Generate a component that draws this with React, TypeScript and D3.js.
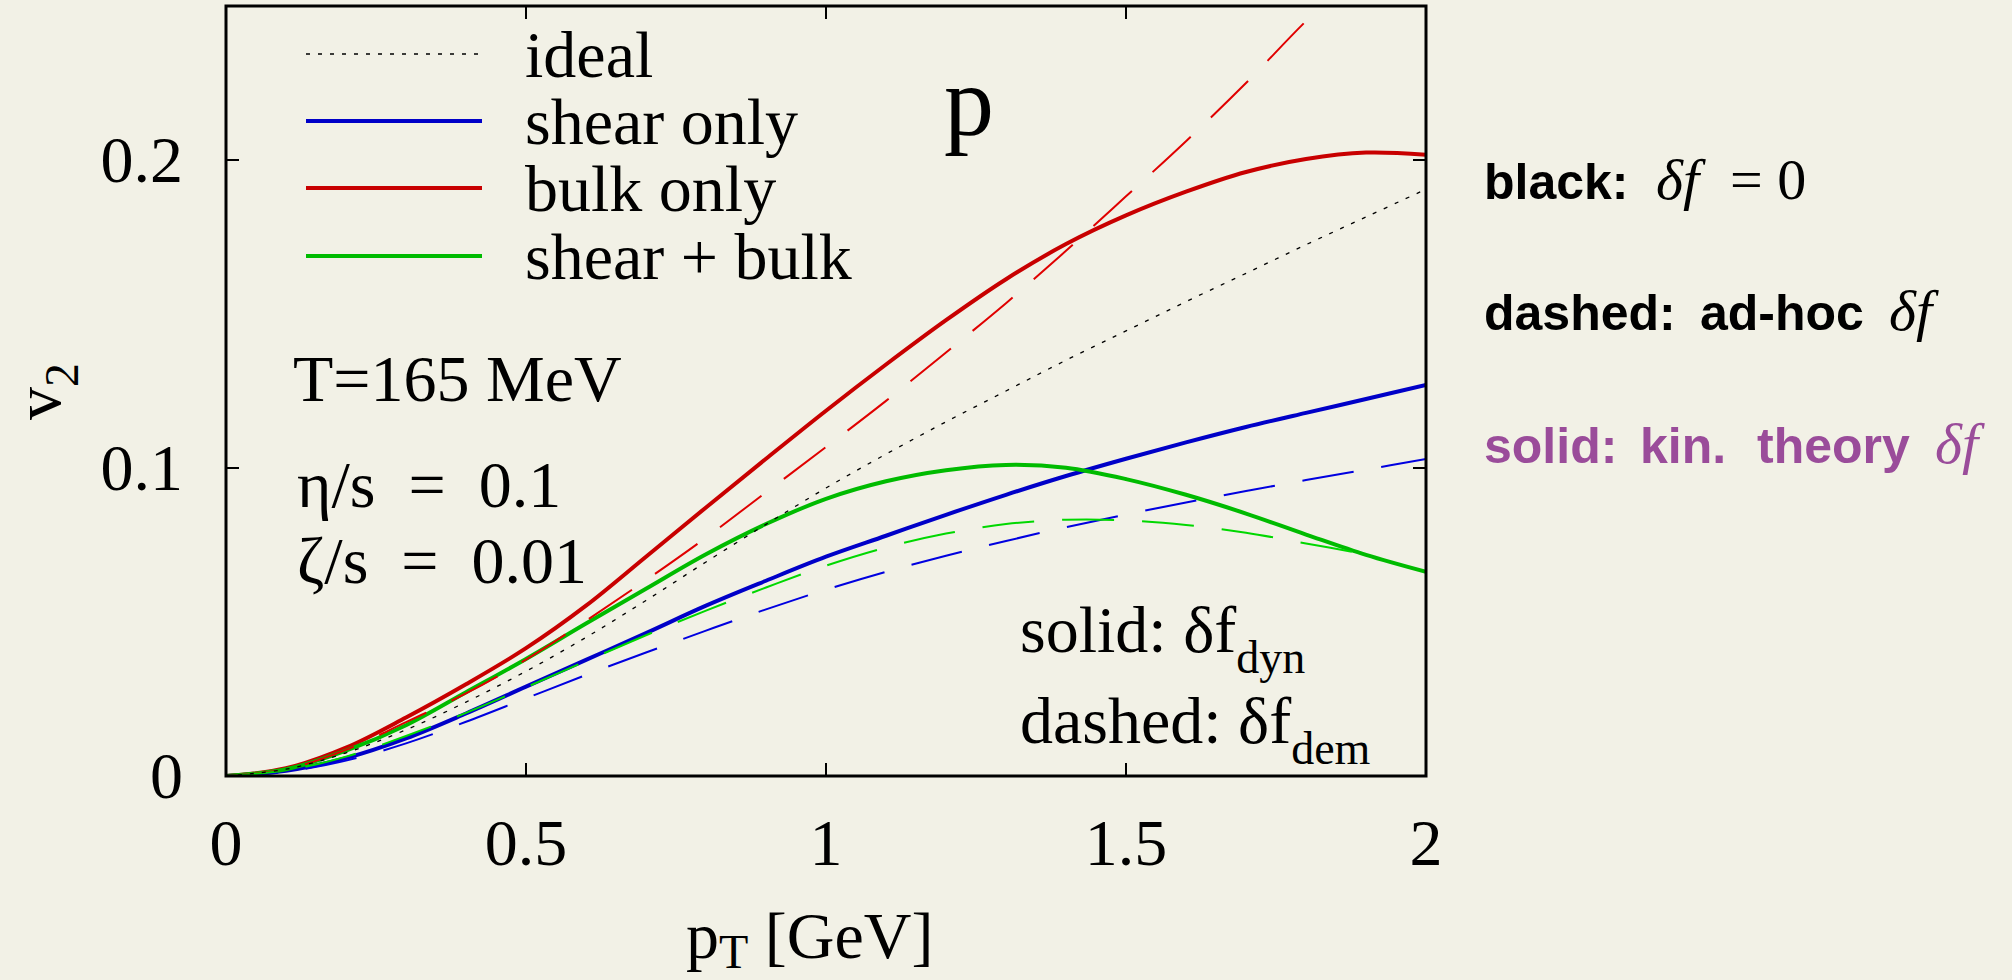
import React from "react";
import * as d3 from "d3";

// pT grid [GeV]
const pT = [0, 0.1, 0.2, 0.3, 0.4, 0.5, 0.6, 0.7, 0.8, 0.9, 1.0, 1.1, 1.2, 1.3, 1.4, 1.5, 1.6, 1.7, 1.8, 1.9, 2.0];

// v2 values (null = no data)
const ideal = [0, 0.0022, 0.0075, 0.015, 0.024, 0.034, 0.045, 0.057, 0.0695, 0.0817, 0.0935, 0.1045, 0.115, 0.125, 0.135, 0.1445, 0.154, 0.1632, 0.1725, 0.1815, 0.1905];
const shearSolid = [0, 0.0017, 0.0058, 0.0122, 0.0203, 0.029, 0.0377, 0.0464, 0.0553, 0.0634, 0.0712, 0.078, 0.0848, 0.0913, 0.0974, 0.103, 0.1083, 0.1133, 0.1179, 0.1224, 0.127];
const shearDashed = [0, 0.0014, 0.005, 0.0106, 0.0176, 0.0252, 0.0328, 0.0401, 0.0472, 0.0541, 0.0605, 0.0663, 0.0715, 0.0763, 0.0808, 0.0849, 0.0888, 0.0925, 0.0961, 0.0995, 0.1029];
const bulkSolid = [0, 0.0025, 0.0092, 0.019, 0.0298, 0.0415, 0.0553, 0.0712, 0.0872, 0.103, 0.1186, 0.1336, 0.148, 0.1613, 0.1727, 0.182, 0.1897, 0.1961, 0.2003, 0.2024, 0.2017];
const bulkDashed = [0, 0.0022, 0.0085, 0.0175, 0.0268, 0.0378, 0.0504, 0.0636, 0.0774, 0.0921, 0.1068, 0.1218, 0.1375, 0.1535, 0.1705, 0.1882, 0.2061, 0.225, 0.2451, 0.2635, null];
const bothSolid = [0, 0.0022, 0.0082, 0.0165, 0.0272, 0.038, 0.0495, 0.0608, 0.072, 0.0818, 0.09, 0.0957, 0.0993, 0.101, 0.1001, 0.0964, 0.0913, 0.0852, 0.0784, 0.0718, 0.0663];
const bothDashed = [0, 0.0018, 0.0063, 0.013, 0.0205, 0.0288, 0.0373, 0.0457, 0.0537, 0.0612, 0.0683, 0.0742, 0.0787, 0.0818, 0.0832, 0.083, 0.0815, 0.079, 0.0755, 0.072, null];

const xTicks = [0, 0.5, 1, 1.5, 2];
const xTickLabels = ["0", "0.5", "1", "1.5", "2"];
const yTicks = [0, 0.1, 0.2];
const yTickLabels = ["0", "0.1", "0.2"];

const legendLabels = ["ideal", "shear only", "bulk only", "shear + bulk"];

const BG = "#f2f1e6";
const BLUE = "#0000c8";
const RED = "#c80000";
const GREEN = "#00bb00";
const PURPLE = "#9a4c9a";
const SERIF = "'Liberation Serif', 'Times New Roman', serif";
const SANS = "'Liberation Sans', Arial, sans-serif";

const W = 2012;
const H = 980;
const left = 226;
const right = 1426;
const bottom = 776;
const top = 6;

export default function App() {
  const x = d3.scaleLinear().domain([0, 2]).range([left, right]);
  const y = d3.scaleLinear().domain([0, 0.25]).range([bottom, top]);

  const line = d3
    .line<[number, number | null]>()
    .defined((d) => d[1] !== null)
    .x((d) => x(d[0]))
    .y((d) => y(d[1] as number))
    .curve(d3.curveCatmullRom.alpha(0.5));

  const path = (vals: (number | null)[]) =>
    line(pT.map((p, i) => [p, vals[i]] as [number, number | null])) || "";

  const series = [
    { vals: shearSolid, color: BLUE, width: 4, dash: "none" },
    { vals: bulkSolid, color: RED, width: 4, dash: "none" },
    { vals: bothSolid, color: GREEN, width: 4, dash: "none" },
    { vals: shearDashed, color: "#0000e0", width: 2, dash: "52 28" },
    { vals: bulkDashed, color: "#e00000", width: 2, dash: "52 28" },
    { vals: bothDashed, color: "#00d800", width: 2, dash: "52 28" },
    { vals: ideal, color: "#000", width: 1.3, dash: "4 8" },
  ];

  const legendStyle = [
    { color: "#000", width: 1.3, dash: "4 8" },
    { color: BLUE, width: 4, dash: "none" },
    { color: RED, width: 4, dash: "none" },
    { color: GREEN, width: 4, dash: "none" },
  ];
  const legendBase = [77, 144, 211, 279];

  return (
    <div style={{ position: "absolute", left: 0, top: 0 }}>
      <svg width={W} height={H} style={{ display: "block" }}>
        <rect x={0} y={0} width={W} height={H} fill={BG} />
        <defs>
          <clipPath id="plotClip">
            <rect x={left} y={top} width={right - left} height={bottom - top} />
          </clipPath>
        </defs>

        {/* curves */}
        <g clipPath="url(#plotClip)" fill="none">
          {series.map((s, i) => (
            <path
              key={i}
              d={path(s.vals)}
              stroke={s.color}
              strokeWidth={s.width}
              strokeDasharray={s.dash}
            />
          ))}
        </g>

        {/* frame */}
        <rect
          x={left}
          y={top}
          width={right - left}
          height={bottom - top}
          fill="none"
          stroke="#000"
          strokeWidth={3}
        />

        {/* ticks */}
        {xTicks.map((t, i) => (
          <g key={"x" + i}>
            <line x1={x(t)} x2={x(t)} y1={bottom} y2={bottom - 13} stroke="#000" strokeWidth={2} />
            <line x1={x(t)} x2={x(t)} y1={top} y2={top + 13} stroke="#000" strokeWidth={2} />
            <text x={x(t)} y={865} textAnchor="middle" fontFamily={SERIF} fontSize={66}>
              {xTickLabels[i]}
            </text>
          </g>
        ))}
        {yTicks.map((t, i) => (
          <g key={"y" + i}>
            <line x1={left} x2={left + 13} y1={y(t)} y2={y(t)} stroke="#000" strokeWidth={2} />
            <line x1={right} x2={right - 13} y1={y(t)} y2={y(t)} stroke="#000" strokeWidth={2} />
            <text x={183} y={y(t) + 22} textAnchor="end" fontFamily={SERIF} fontSize={66}>
              {yTickLabels[i]}
            </text>
          </g>
        ))}

        {/* axis titles */}
        <text x={686} y={958} fontFamily={SERIF} fontSize={66}>
          p<tspan fontSize={48} dy={10}>T</tspan>
          <tspan dy={-10}> [GeV]</tspan>
        </text>
        <text transform="translate(60,420) rotate(-90)" fontFamily={SERIF} fontSize={66}>
          v<tspan fontSize={48} dy={18}>2</tspan>
        </text>

        {/* legend */}
        {legendLabels.map((lab, i) => (
          <g key={"l" + i}>
            <line
              x1={306}
              x2={482}
              y1={legendBase[i] - 23}
              y2={legendBase[i] - 23}
              stroke={legendStyle[i].color}
              strokeWidth={legendStyle[i].width}
              strokeDasharray={legendStyle[i].dash}
            />
            <text x={525} y={legendBase[i]} fontFamily={SERIF} fontSize={66}>
              {lab}
            </text>
          </g>
        ))}

        <text x={944} y={135} fontFamily={SERIF} fontSize={100}>
          p
        </text>

        <text x={293} y={401} fontFamily={SERIF} fontSize={66}>
          T=165 MeV
        </text>
        <text x={297} y={507} fontFamily={SERIF} fontSize={66} style={{ whiteSpace: "pre" }}>
          {"η/s  =  0.1"}
        </text>
        <text x={297} y={583} fontFamily={SERIF} fontSize={66} style={{ whiteSpace: "pre" }}>
          {"ζ/s  =  0.01"}
        </text>

        <text x={1020} y={652} fontFamily={SERIF} fontSize={66}>
          solid: δf<tspan fontSize={46} dy={21}>dyn</tspan>
        </text>
        <text x={1020} y={743} fontFamily={SERIF} fontSize={66}>
          dashed: δf<tspan fontSize={46} dy={21}>dem</tspan>
        </text>

        {/* right-hand notes */}
        <g fontFamily={SANS} fontWeight="bold" fontSize={50}>
          <text x={1484} y={199} fill="#000">black:</text>
          <text x={1656} y={199} fontFamily={SERIF} fontStyle="italic" fontWeight="normal" fontSize={58}>
            δf
          </text>
          <text x={1730} y={199} fontFamily={SERIF} fontWeight="normal" fontSize={58}>
            = 0
          </text>

          <text x={1484} y={330} fill="#000">dashed:</text>
          <text x={1700} y={330} fill="#000">ad-hoc</text>
          <text x={1889} y={330} fontFamily={SERIF} fontStyle="italic" fontWeight="normal" fontSize={58}>
            δf
          </text>

          <text x={1484} y={463} fill={PURPLE}>solid:</text>
          <text x={1640} y={463} fill={PURPLE}>kin.</text>
          <text x={1757} y={463} fill={PURPLE}>theory</text>
          <text x={1935} y={463} fill={PURPLE} fontFamily={SERIF} fontStyle="italic" fontWeight="normal" fontSize={58}>
            δf
          </text>
        </g>
      </svg>
    </div>
  );
}
